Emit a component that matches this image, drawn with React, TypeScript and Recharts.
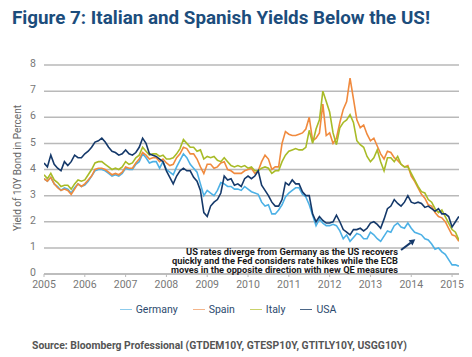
import React from "react";
import { LineChart, Line, XAxis, YAxis, CartesianGrid, ReferenceLine } from "recharts";

const START_YEAR = 2005;
const yearTicks = [2005, 2006, 2007, 2008, 2009, 2010, 2011, 2012, 2013, 2014, 2015];
const yTicks = [0, 1, 2, 3, 4, 5, 6, 7, 8];

const seriesNames = ["Germany", "Spain", "Italy", "USA"];
const seriesColors = ["#4db1e6", "#f08a3e", "#a8bb27", "#15396a"];
const legendColors = ["#8ccbec", "#f4b58a", "#c9d26a", "#4b6687"];

// Monthly readings, Jan 2005 .. Mar 2015
const germany = [
  3.65, 3.55, 3.7, 3.45, 3.35, 3.2, 3.3, 3.25, 3.1, 3.3, 3.45, 3.35,
  3.4, 3.55, 3.75, 3.95, 4.0, 4.0, 3.95, 3.85, 3.75, 3.8, 3.75, 3.85,
  4.05, 4.0, 4.0, 4.2, 4.3, 4.6, 4.45, 4.25, 4.3, 4.3, 4.05, 4.3,
  4.0, 3.9, 3.8, 4.1, 4.35, 4.6, 4.45, 4.2, 4.05, 3.9, 3.45, 3.0,
  3.2, 3.1, 3.0, 3.2, 3.5, 3.45, 3.35, 3.35, 3.25, 3.25, 3.2, 3.35,
  3.25, 3.15, 3.1, 3.05, 2.75, 2.6, 2.65, 2.3, 2.3, 2.45, 2.65, 2.95,
  3.1, 3.2, 3.3, 3.3, 3.05, 2.95, 2.65, 2.25, 1.85, 2.1, 1.95, 1.85,
  1.85, 1.9, 1.85, 1.65, 1.35, 1.5, 1.25, 1.4, 1.55, 1.5, 1.35, 1.35,
  1.6, 1.5, 1.35, 1.25, 1.45, 1.65, 1.6, 1.85, 1.95, 1.8, 1.75, 1.95,
  1.75, 1.6, 1.55, 1.5, 1.35, 1.3, 1.15, 0.95, 1.0, 0.85, 0.75, 0.55,
  0.35, 0.35, 0.3,
];
const spain = [
  3.65, 3.55, 3.7, 3.45, 3.3, 3.2, 3.25, 3.2, 3.05, 3.25, 3.45, 3.35,
  3.45, 3.6, 3.75, 4.0, 4.05, 4.05, 4.0, 3.9, 3.8, 3.85, 3.8, 3.9,
  4.1, 4.05, 4.05, 4.25, 4.4, 4.65, 4.55, 4.4, 4.45, 4.45, 4.3, 4.4,
  4.25, 4.15, 4.2, 4.45, 4.6, 4.85, 4.8, 4.6, 4.6, 4.4, 4.1, 3.85,
  4.2, 4.2, 4.05, 4.1, 4.25, 4.3, 4.0, 3.95, 3.85, 3.85, 3.85, 3.95,
  4.0, 4.05, 3.85, 3.95, 4.3, 4.55, 4.4, 4.0, 4.1, 4.1, 5.0, 5.45,
  5.35, 5.3, 5.3, 5.35, 5.4, 5.55, 6.0, 5.1, 5.2, 5.4, 6.5, 5.3,
  5.4, 5.0, 5.2, 5.8, 6.3, 6.6, 7.5, 6.7, 5.9, 5.6, 5.7, 5.35,
  5.1, 5.2, 4.9, 4.6, 4.4, 4.7, 4.65, 4.45, 4.35, 4.2, 4.1, 4.15,
  3.75, 3.55, 3.3, 3.05, 2.9, 2.65, 2.6, 2.35, 2.2, 2.15, 2.0, 1.75,
  1.5, 1.45, 1.25,
];
const italy = [
  3.8, 3.65, 3.85, 3.6, 3.5, 3.35, 3.4, 3.4, 3.25, 3.45, 3.6, 3.55,
  3.6, 3.8, 4.0, 4.25, 4.3, 4.3, 4.2, 4.1, 4.0, 4.05, 4.0, 4.1,
  4.3, 4.2, 4.25, 4.45, 4.55, 4.85, 4.7, 4.55, 4.6, 4.6, 4.5, 4.55,
  4.4, 4.4, 4.45, 4.6, 4.8, 5.15, 5.0, 4.85, 4.85, 4.7, 4.75, 4.4,
  4.5, 4.45, 4.5, 4.35, 4.3, 4.45, 4.3, 4.15, 4.1, 4.15, 4.1, 4.15,
  4.05, 4.1, 3.95, 3.95, 4.05, 4.1, 4.05, 3.85, 3.95, 3.95, 4.3, 4.55,
  4.7, 4.75, 4.8, 4.75, 4.75, 4.85, 5.5, 5.0, 5.55, 5.9, 7.0, 6.6,
  6.2, 5.4, 4.95, 5.6, 5.8, 5.9, 6.1, 5.8, 5.1, 4.95, 4.85, 4.5,
  4.3, 4.45, 4.75, 4.3, 3.95, 4.45, 4.45, 4.3, 4.5, 4.2, 4.1, 4.1,
  3.85, 3.6, 3.35, 3.15, 3.1, 2.85, 2.75, 2.5, 2.35, 2.45, 2.2, 1.95,
  1.7, 1.6, 1.3,
];
const usa = [
  4.25, 4.1, 4.55, 4.2, 4.05, 3.95, 4.3, 4.15, 4.3, 4.55, 4.45, 4.45,
  4.6, 4.7, 4.85, 5.05, 5.1, 5.2, 5.05, 4.85, 4.7, 4.65, 4.55, 4.6,
  4.75, 4.6, 4.55, 4.65, 4.85, 5.2, 5.0, 4.6, 4.55, 4.5, 4.4, 4.3,
  3.95, 3.7, 3.45, 3.75, 3.95, 4.05, 3.95, 3.95, 3.7, 3.55, 3.2, 2.35,
  2.2, 2.6, 2.75, 2.85, 3.1, 3.75, 3.6, 3.65, 3.4, 3.45, 3.35, 3.65,
  3.75, 3.65, 3.75, 3.95, 3.4, 3.2, 3.0, 2.75, 2.6, 2.6, 2.85, 3.5,
  3.4, 3.6, 3.45, 3.45, 3.15, 3.0, 3.0, 2.3, 2.0, 2.2, 2.05, 1.95,
  1.95, 2.0, 2.25, 2.0, 1.7, 1.6, 1.5, 1.7, 1.7, 1.75, 1.65, 1.75,
  1.95, 2.0, 1.9, 1.75, 2.1, 2.5, 2.6, 2.85, 2.7, 2.6, 2.75, 3.0,
  2.75, 2.7, 2.75, 2.7, 2.55, 2.6, 2.5, 2.4, 2.5, 2.3, 2.3, 2.2,
  1.8, 2.0, 2.2,
];

const annotationLines = [
  "US rates diverge from Germany as the US recovers",
  "quickly and the Fed considers rate hikes while the ECB",
  "moves in the opposite direction with new QE measures",
];
const annotationWidths = [212, 226, 227];
const arrowFrom = { t: 2013.75, v: 0.92 };
const arrowTo = { t: 2014.1, v: 1.33 };

const title = "Figure 7: Italian and Spanish Yields Below the US!";
const yLabel = "Yield of 10Y Bond in Percent";
const source = "Source: Bloomberg Professional (GTDEM10Y, GTESP10Y, GTITLY10Y, USGG10Y)";

const data = germany.map((_, i) => ({
  t: START_YEAR + i / 12,
  Germany: germany[i],
  Spain: spain[i],
  Italy: italy[i],
  USA: usa[i],
}));

const FONT = "Roboto, 'Liberation Sans', sans-serif";

const ArrowShape = (props: any) => {
  const { x1, y1, x2, y2 } = props;
  if ([x1, y1, x2, y2].some((v) => typeof v !== "number")) return null;
  const ang = Math.atan2(y2 - y1, x2 - x1);
  const L = 6;
  const W = 3.2;
  const bx = x2 - L * Math.cos(ang);
  const by = y2 - L * Math.sin(ang);
  const px = -Math.sin(ang) * W;
  const py = Math.cos(ang) * W;
  return (
    <g>
      <line x1={x1} y1={y1} x2={bx} y2={by} stroke="#15396a" strokeWidth={2} />
      <polygon points={`${x2},${y2} ${bx + px},${by + py} ${bx - px},${by - py}`} fill="#15396a" />
    </g>
  );
};

export default function App() {
  return (
    <div style={{ position: "absolute", left: 0, top: 0, width: 472, height: 357, background: "#fff", fontFamily: FONT }}>
      <svg width={472} height={357} style={{ position: "absolute", left: 0, top: 0 }}>
        <text x={12} y={24} fontSize={18} fontWeight={700} fill="#1c4d7c" fontFamily={FONT} textLength={418} lengthAdjust="spacingAndGlyphs">
          {title}
        </text>
        <text
          x={0}
          y={0}
          transform="translate(21,168) rotate(-90)"
          textAnchor="middle"
          fontSize={10}
          fill="#666"
          fontFamily={FONT}
        >
          {yLabel}
        </text>
        <text x={32} y={349} fontSize={10.5} fontWeight={700} fill="#555" fontFamily={FONT} textLength={375} lengthAdjust="spacingAndGlyphs">
          {source}
        </text>
      </svg>
      <div style={{ position: "absolute", left: 0, top: 0 }}>
        <LineChart width={472} height={300} data={data} margin={{ top: 65, right: 13, bottom: 0, left: 24 }}>
          <CartesianGrid horizontal vertical={false} stroke="#b9b9b9" strokeWidth={1.5} />
          <XAxis
            dataKey="t"
            type="number"
            domain={[2005, 2015.17]}
            ticks={yearTicks}
            allowDataOverflow
            height={26}
            axisLine={{ stroke: "#b9b9b9", strokeWidth: 1.5 }}
            tickLine={{ stroke: "#b9b9b9" }}
            tickSize={3}
            tickMargin={4}
            tick={{ fontSize: 10.5, fill: "#777", fontFamily: FONT }}
          />
          <YAxis
            domain={[0, 8]}
            ticks={yTicks}
            width={20}
            axisLine={false}
            tickLine={false}
            tickSize={0}
            tickMargin={8}
            tick={{ fontSize: 10.5, fill: "#777", fontFamily: FONT, dy: -1.5 }}
          />
          {seriesNames.map((name, i) => (
            <Line
              key={name}
              type="linear"
              dataKey={name}
              stroke={seriesColors[i]}
              strokeWidth={1.6}
              dot={false}
              isAnimationActive={false}
            />
          ))}
          <ReferenceLine
            segment={[
              { x: arrowFrom.t, y: arrowFrom.v },
              { x: arrowTo.t, y: arrowTo.v },
            ]}
            shape={ArrowShape}
          />
        </LineChart>
      </div>
      <svg width={472} height={357} style={{ position: "absolute", left: 0, top: 0, pointerEvents: "none" }}>
        {annotationLines.map((line, i) => (
          <text
            key={i}
            x={398}
            y={255 + i * 8.8}
            textAnchor="end"
            fontSize={8.5}
            fontWeight={700}
            fill="#1a1a1a"
            fontFamily={FONT}
            textLength={annotationWidths[i]}
            lengthAdjust="spacingAndGlyphs"
          >
            {line}
          </text>
        ))}
      </svg>
      <div
        style={{
          position: "absolute",
          top: 303,
          left: -8,
          width: 472,
          display: "flex",
          justifyContent: "center",
          gap: 15,
          fontSize: 10.5,
          color: "#2c4a6e",
          fontFamily: FONT,
        }}
      >
        {seriesNames.map((name, i) => (
          <div key={name} style={{ display: "flex", alignItems: "center", gap: 4 }}>
            <span style={{ display: "inline-block", width: 12, height: 1.5, background: legendColors[i] }} />
            <span>{name}</span>
          </div>
        ))}
      </div>
    </div>
  );
}
